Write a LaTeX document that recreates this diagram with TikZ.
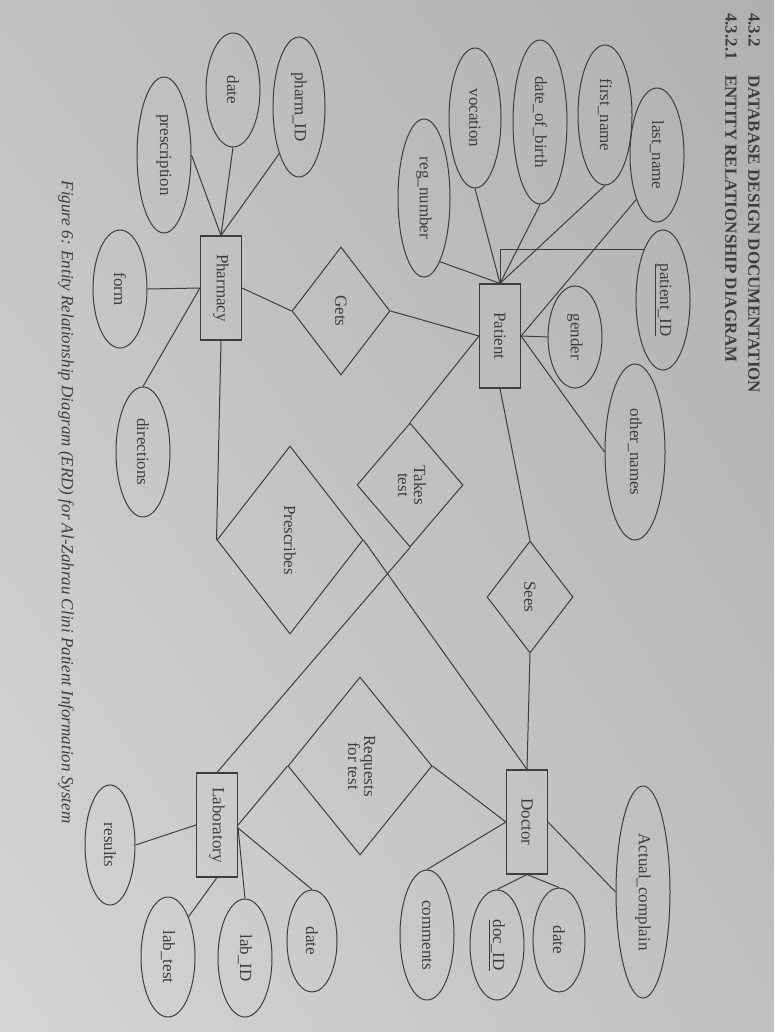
\documentclass[tikz,border=0pt]{standalone}
\usepackage{graphicx}
\usepackage{fontspec}
\setmainfont{Liberation Serif}
\usetikzlibrary{shapes.geometric,shadings}
\definecolor{ink}{RGB}{62,60,62}
\definecolor{pUL}{RGB}{196,193,195}
\definecolor{pUR}{RGB}{178,175,177}
\definecolor{pLL}{RGB}{214,212,214}
\definecolor{pLR}{RGB}{194,191,193}
\newcommand{\rtext}[1]{\rotatebox{-90}{#1}}
\newcommand{\rtwo}[2]{\rotatebox{-90}{\begin{tabular}{@{}c@{}}#1\\[-3pt]#2\end{tabular}}}
\begin{document}
\begin{tikzpicture}[x=1pt,y=-1pt,
  lbl/.style={text=ink, font=\fontsize{17}{19}\selectfont},
  ent/.style={lbl, draw=ink, line width=1.1pt, rectangle, minimum width=41pt, minimum height=104pt, inner sep=0pt},
  attr/.style={lbl, draw=ink, line width=1pt, ellipse, inner sep=0pt},
  rel/.style={lbl, draw=ink, line width=1pt, diamond, inner sep=0pt},
  conn/.style={draw=ink, line width=1pt},
  head/.style={text=ink, font=\fontsize{17}{19}\selectfont\bfseries, rotate=-90, anchor=west, inner sep=0pt},
  capt/.style={text=ink, font=\fontsize{17}{19}\selectfont\itshape, rotate=-90, inner sep=0pt}]
\useasboundingbox (0,0) rectangle (774,1032);
\shade[upper left=pUL, upper right=pUR, lower left=pLL, lower right=pLR] (0,1032) rectangle (774,0);

% headings
\node[head] (h1n) at (754,13) {4.3.2};
\node[head] (h1t) at (754,75) {DATABASE DESIGN DOCUMENTATION};
\node[head] (h2n) at (731,13) {4.3.2.1};
\node[head] (h2t) at (731,75) {ENTITY RELATIONSHIP DIAGRAM};
\node[capt] (cap) at (66,502) {Figure 6: Entity Relationship Diagram (ERD) for Al-Zahrau Clini Patient Information System};

% entities
\node[ent] (Patient) at (500,336) {\rtext{Patient}};
\node[ent] (Pharmacy) at (221,288) {\rtext{Pharmacy}};
\node[ent] (Doctor) at (527,822) {\rtext{Doctor}};
\node[ent] (Laboratory) at (217,825) {\rtext{Laboratory}};

% relationships
\node[rel, minimum width=98pt, minimum height=128pt] (Gets) at (341,311) {\rtext{Gets}};
\node[rel, minimum width=106pt, minimum height=124pt] (Takes) at (410,485) {\rtwo{Takes}{test}};
\node[rel, minimum width=146pt, minimum height=188pt] (Prescribes) at (290,540) {\rtext{Prescribes}};
\node[rel, minimum width=86pt, minimum height=112pt] (Sees) at (530,597) {\rtext{Sees}};
\node[rel, minimum width=144pt, minimum height=178pt] (Requests) at (360,766) {\rtwo{Requests}{for test}};

% patient attributes
\node[attr, minimum width=54pt, minimum height=134pt] (lastname) at (657,155) {\rtext{last\_name}};
\node[attr, minimum width=54pt, minimum height=140pt] (firstname) at (605,115) {\rtext{first\_name}};
\node[attr, minimum width=54pt, minimum height=164pt] (dob) at (540,122) {\rtext{date\_of\_birth}};
\node[attr, minimum width=52pt, minimum height=140pt] (vocation) at (475,118) {\rtext{vocation}};
\node[attr, minimum width=52pt, minimum height=158pt] (regnumber) at (424,198) {\rtext{reg\_number}};
\node[attr, minimum width=54pt, minimum height=140pt] (patientID) at (663,300) {\rtext{\underline{patient\_ID}}};
\node[attr, minimum width=54pt, minimum height=102pt] (gender) at (575,337) {\rtext{gender}};
\node[attr, minimum width=60pt, minimum height=176pt] (othernames) at (635,452) {\rtext{other\_names}};

% pharmacy attributes
\node[attr, minimum width=52pt, minimum height=140pt] (pharmID) at (299,107) {\rtext{pharm\_ID}};
\node[attr, minimum width=54pt, minimum height=114pt] (pdate) at (233,90) {\rtext{date}};
\node[attr, minimum width=54pt, minimum height=156pt] (prescription) at (164,155) {\rtext{prescription}};
\node[attr, minimum width=54pt, minimum height=118pt] (form) at (120,289) {\rtext{form}};
\node[attr, minimum width=54pt, minimum height=130pt] (directions) at (143,452) {\rtext{directions}};

% doctor attributes
\node[attr, minimum width=54pt, minimum height=212pt] (actual) at (643,892) {\rtext{Actual\_complain}};
\node[attr, minimum width=52pt, minimum height=104pt] (ddate) at (559,940) {\rtext{date}};
\node[attr, minimum width=54pt, minimum height=110pt] (docID) at (497,945) {\rtext{\underline{doc\_ID}}};
\node[attr, minimum width=54pt, minimum height=130pt] (comments) at (427,935) {\rtext{comments}};

% laboratory attributes
\node[attr, minimum width=50pt, minimum height=120pt] (results) at (110,845) {\rtext{results}};
\node[attr, minimum width=54pt, minimum height=120pt] (labtest) at (168,957) {\rtext{lab\_test}};
\node[attr, minimum width=54pt, minimum height=118pt] (labID) at (245,958) {\rtext{lab\_ID}};
\node[attr, minimum width=50pt, minimum height=102pt] (ldate) at (312,941) {\rtext{date}};

% patient connectors
\draw[conn] (Patient.north) -- (vocation.south);
\draw[conn] (Patient.north) -- (dob.south);
\draw[conn] (Patient.north) -- (firstname.south);
\draw[conn] (Patient.north) -- (regnumber.-76);
\draw[conn] (Patient.north) |- (patientID.111);
\draw[conn] (Patient.east) -- (lastname.245);
\draw[conn] (Patient.east) -- (gender.west);
\draw[conn] (Patient.east) -- (othernames.west);
\draw[conn] (Patient.west) -- (Gets.east);
\draw[conn] (Gets.west) -- (Pharmacy.east);
\draw[conn] (Patient.west) -- (Takes.north);
\draw[conn] (Takes.south) -- (Laboratory.north);
\draw[conn] (Patient.south) -- (Sees.north);
\draw[conn] (Sees.south) -- (Doctor.north);
\draw[conn] (Pharmacy.south) -- (Prescribes.west);
\draw[conn] (Prescribes.east) -- (Doctor.north);
\draw[conn] (Requests.east) -- (Doctor.west);
\draw[conn] (Requests.west) -- (Laboratory.east);

% pharmacy connectors
\draw[conn] (Pharmacy.north) -- (pharmID.247);
\draw[conn] (Pharmacy.north) -- (pdate.south);
\draw[conn] (Pharmacy.north) -- (prescription.east);
\draw[conn] (Pharmacy.west) -- (form.east);
\draw[conn] (Pharmacy.west) -- (directions.north);

% doctor connectors
\draw[conn] (Doctor.east) -- (actual.west);
\draw[conn] (Doctor.south) -- (ddate.north);
\draw[conn] (Doctor.south) -- (docID.north);
\draw[conn] (Doctor.west) -- (comments.north);

% laboratory connectors
\draw[conn] (Laboratory.west) -- (results.east);
\draw[conn] (Laboratory.south) -- (labtest.63);
\draw[conn] (Laboratory.-8) -- (labID.north);
\draw[conn] (Laboratory.-8) -- (ldate.north);
\end{tikzpicture}
\end{document}
